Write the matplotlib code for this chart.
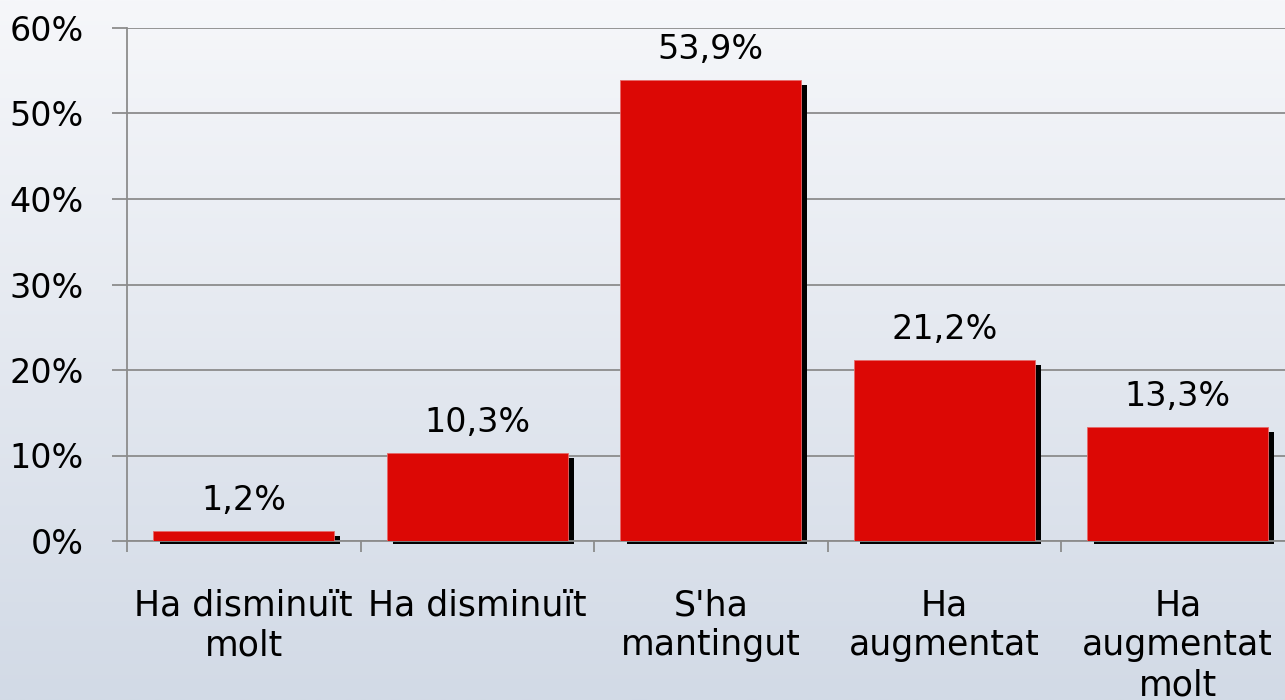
import numpy as np
import matplotlib.pyplot as plt
import matplotlib.transforms as mtransforms
from matplotlib.colors import LinearSegmentedColormap

# Data
categories = ["Ha disminuït\nmolt", "Ha disminuït", "S'ha\nmantingut",
              "Ha\naugmentat", "Ha\naugmentat\nmolt"]
values = [1.2, 10.3, 53.9, 21.2, 13.3]
value_labels = ["1,2%", "10,3%", "53,9%", "21,2%", "13,3%"]
yticks = [0, 10, 20, 30, 40, 50, 60]
ytick_labels = ["0%", "10%", "20%", "30%", "40%", "50%", "60%"]

RED = '#dc0805'
GRID = '#8c8c8c'

plt.rcParams['font.family'] = ['DejaVu Sans']

fig = plt.figure(figsize=(12.85, 7), dpi=100)

# background gradient over whole figure
bg = fig.add_axes([0, 0, 1, 1], zorder=-10)
cmap = LinearSegmentedColormap.from_list('bg', ['#f6f7fa', '#d2dae6'])
grad = np.linspace(0, 1, 256).reshape(-1, 1)
bg.imshow(grad, aspect='auto', cmap=cmap, extent=[0, 1, 0, 1], origin='upper')
bg.axis('off')

ax = fig.add_axes([127 / 1285, 1 - 541 / 700, 5 * 233.5 / 1285, 513 / 700])
ax.patch.set_alpha(0)

x = np.arange(len(values))
width = 0.775

# drop shadows: shifted right, top a bit lower, bottom just under the axis
shadow_tr = ax.transData + mtransforms.ScaledTranslation(4.5 / 72, 0, fig.dpi_scale_trans)
for xi, v in zip(x, values):
    ax.bar(xi, v - 0.6 + 0.3, bottom=-0.3, width=width, color='black',
           zorder=2, transform=shadow_tr, clip_on=False)

ax.bar(x, values, width=width, color=RED, edgecolor='#e66a6a', linewidth=0.6, zorder=3)

for xi, v, lab in zip(x, values, value_labels):
    ax.annotate(lab, (xi, v), xytext=(0, 10), textcoords='offset points',
                ha='center', va='bottom', fontsize=24, color='black')

ax.set_xlim(-0.5, len(values) - 0.5)
ax.set_ylim(0, 60)
ax.set_yticks(yticks)
ax.set_yticklabels(ytick_labels, fontsize=24)
ax.set_xticks(x)
ax.set_xticklabels(categories, fontsize=25, linespacing=1.22, va='top')
ax.set_xticks(np.arange(-0.5, len(values) - 0.5, 1), minor=True)

ax.tick_params(axis='x', which='major', length=0, pad=34)
ax.tick_params(axis='x', which='minor', length=8, width=1.3, color=GRID, direction='out')
ax.tick_params(axis='y', which='major', length=11, width=1.3, color=GRID, pad=20)

ax.grid(axis='y', color=GRID, linewidth=1.3, zorder=0)
ax.set_axisbelow(True)
for s in ['top', 'right']:
    ax.spines[s].set_visible(False)
for s in ['left', 'bottom']:
    ax.spines[s].set_color(GRID)
    ax.spines[s].set_linewidth(1.3)

fig.savefig('out.png', dpi=100)
